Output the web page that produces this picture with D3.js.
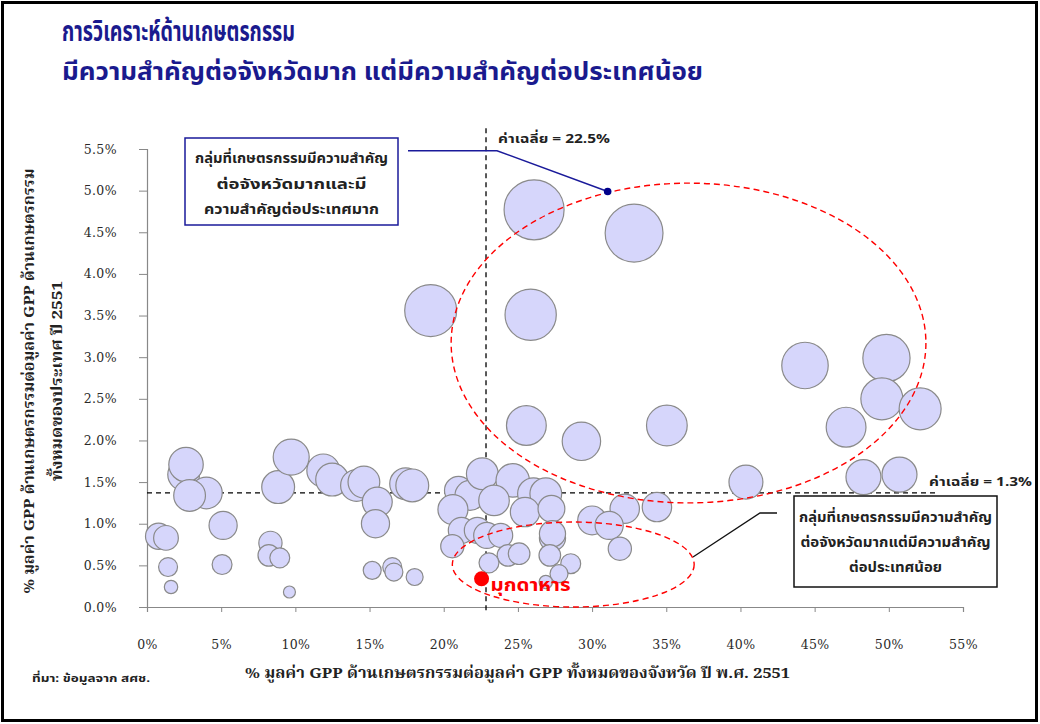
<!DOCTYPE html>
<html><head><meta charset="utf-8">
<script src="https://cdn.jsdelivr.net/npm/d3@7"></script>
<style>
html,body{margin:0;padding:0;background:#fff;}
svg{display:block;}
</style></head>
<body>
<svg id="chart" width="1040" height="724"></svg>
<script>
// ---- data ----
const titleLines = ["การวิเคราะห์ด้านเกษตรกรรม", "มีความสำคัญต่อจังหวัดมาก แต่มีความสำคัญต่อประเทศน้อย"];
const xTicks = [0,5,10,15,20,25,30,35,40,45,50,55];
const yTicks = [0,0.5,1,1.5,2,2.5,3,3.5,4,4.5,5,5.5];
// bubbles: x = % agri GPP of province GPP, y = % of national agri GPP, size = relative bubble size
const bubbleX = [2.47,2.63,4.0,2.87,5.13,0.78,1.28,1.42,1.62,5.06,8.84,9.72,8.32,8.21,8.95,9.6,
  11.88,12.48,14.12,14.62,15.52,15.4,17.43,17.88,15.18,16.53,16.64,18.04,19.12,
  21.0,21.77,22.6,24.65,26.05,26.88,23.39,20.62,25.48,27.26,21.19,22.27,22.9,23.84,27.33,27.33,20.58,24.33,25.08,23.05,27.15,28.56,27.77,26.88,
  26.09,32.83,25.86,25.57,29.28,35.04,44.35,49.84,49.53,52.11,47.12,40.37,48.29,50.72,
  32.2,34.37,30.0,31.15,31.87];
const bubbleY = [1.59,1.71,1.37,1.34,0.98,0.85,0.83,0.48,0.24,0.51,1.44,1.80,0.77,0.62,0.59,0.18,
  1.64,1.53,1.46,1.50,1.26,1.00,1.48,1.46,0.44,0.48,0.42,0.36,3.56,
  1.40,1.34,1.60,1.52,1.36,1.36,1.28,1.17,1.14,1.18,0.92,0.92,0.86,0.86,0.83,0.88,0.73,0.62,0.64,0.53,0.62,0.52,0.40,0.30,
  4.77,4.49,3.51,2.18,1.99,2.18,2.90,2.99,2.50,2.38,2.16,1.50,1.56,1.59,
  1.18,1.20,1.04,0.98,0.70];
const bubbleSize = [28,33,28,28,22,19,17,10,5,11,30,36,15,13,11,4,
  30,30,28,28,25,22,28,30,9,10,9,8,75,
  22,25,28,31,28,28,26,25,24,20,19,19,19,16,19,19,15,13,13,11,13,11,9,5,
  100,93,73,44,41,46,60,62,49,49,44,32,34,34,
  24,24,23,22,15];
const mukdahan = {name:"มุกดาหาร", x:22.55, y:0.34};
const meanX = 22.85, meanXLabel = "ค่าเฉลี่ย = 22.5%";
const meanY = 1.37, meanYLabel = "ค่าเฉลี่ย = 1.3%";
const ellipseBig = {cx:36.5, cy:3.17, rx:16.0, ry:1.92};
const ellipseSmall = {cx:28.73, cy:0.51, rx:8.15, ry:0.51};
const box1Lines = ["กลุ่มที่เกษตรกรรมมีความสำคัญ","ต่อจังหวัดมากและมี","ความสำคัญต่อประเทศมาก"];
const box2Lines = ["กลุ่มที่เกษตรกรรมมีความสำคัญ","ต่อจังหวัดมากแต่มีความสำคัญ","ต่อประเทศน้อย"];
const yTitle = ["% มูลค่า GPP ด้านเกษตรกรรมต่อมูลค่า GPP ด้านเกษตรกรรม","ทั้งหมดของประเทศ ปี  2551"];
const xTitle = "% มูลค่า GPP ด้านเกษตรกรรมต่อมูลค่า GPP ทั้งหมดของจังหวัด ปี พ.ศ. 2551";
const source = "ที่มา: ข้อมูลจาก สศช.";

// ---- drawing ----
const thai = "'Noto Sans Thai','Noto Serif Thai','Loma','Garuda','Tlwg Typo','Noto Sans','DejaVu Sans',sans-serif";
const thaiSerif = "'Noto Serif Thai','Noto Sans Thai','Liberation Serif','DejaVu Serif',serif";
const svg = d3.select("#chart");
svg.append("rect").attr("x",0).attr("y",0).attr("width",1040).attr("height",724).attr("fill","#fff");
svg.append("rect").attr("x",2.5).attr("y",2.5).attr("width",1034).attr("height",718)
  .attr("fill","none").attr("stroke","#000").attr("stroke-width",3);

const x = d3.scaleLinear().domain([0,55]).range([147,963]);
const y = d3.scaleLinear().domain([0,5.5]).range([607,149]);
const r = d3.scaleSqrt().domain([0,100]).range([0,30]);

// title
svg.append("text").attr("x",62).attr("y",41).text(titleLines[0])
  .attr("font-family",thai).attr("font-weight","bold").attr("font-size",28).attr("fill","#1a1a8e")
  .attr("textLength",233).attr("lengthAdjust","spacingAndGlyphs");
svg.append("text").attr("x",62).attr("y",80).text(titleLines[1])
  .attr("font-family",thai).attr("font-weight","bold").attr("font-size",24).attr("fill","#1a1a8e")
  .attr("textLength",641).attr("lengthAdjust","spacingAndGlyphs");

// axes
const yAxis = d3.axisLeft(y).tickValues(yTicks).tickFormat(d=>d.toFixed(1)+"%").tickSize(8).tickPadding(16);
const gy = svg.append("g").attr("transform",`translate(${x(0)},0)`).call(yAxis);
const xAxis = d3.axisBottom(x).tickValues(xTicks).tickFormat(d=>d+"%").tickSize(5).tickPadding(34);
const gx = svg.append("g").attr("transform",`translate(0,${y(0)})`).call(xAxis);
[gx,gy].forEach(g=>{
  g.select(".domain").attr("stroke","#888").attr("stroke-width",1.2);
  g.selectAll(".tick line").attr("stroke","#888");
  g.selectAll(".tick text").attr("font-family","'DejaVu Serif',serif").attr("font-size",12.5)
    .attr("fill","#2a2a2a").attr("letter-spacing",0.4);
});
gx.selectAll(".tick text").attr("dy","0.25em");
gy.selectAll(".tick text").attr("dx","-6");

// mean lines
svg.append("line").attr("x1",x(0)).attr("x2",x(53.3)).attr("y1",y(meanY)).attr("y2",y(meanY))
  .attr("stroke","#000").attr("stroke-width",1.3).attr("stroke-dasharray","5,4");
svg.append("line").attr("x1",x(meanX)).attr("x2",x(meanX)).attr("y1",y(5.75)).attr("y2",y(-0.07))
  .attr("stroke","#000").attr("stroke-width",1.3).attr("stroke-dasharray","5,4");
svg.append("text").attr("x",x(meanX)+12).attr("y",y(5.75)+15).text(meanXLabel)
  .attr("font-family",thai).attr("font-weight","bold").attr("font-size",13).attr("fill","#222")
  .attr("textLength",112).attr("lengthAdjust","spacingAndGlyphs");
svg.append("text").attr("x",929).attr("y",y(meanY)-7).text(meanYLabel)
  .attr("font-family",thai).attr("font-weight","bold").attr("font-size",13).attr("fill","#222")
  .attr("textLength",103).attr("lengthAdjust","spacingAndGlyphs");

// bubbles
const data = bubbleX.map((d,i)=>({x:d,y:bubbleY[i],s:bubbleSize[i]}));
svg.append("g").selectAll("circle").data(data).join("circle")
  .attr("cx",d=>x(d.x)).attr("cy",d=>y(d.y)).attr("r",d=>r(d.s))
  .attr("fill","#d6d6fb").attr("stroke","#8a8a8a").attr("stroke-width",1.2);

// ellipses
[ellipseBig, ellipseSmall].forEach(e=>{
  svg.append("ellipse").attr("cx",x(e.cx)).attr("cy",y(e.cy))
    .attr("rx",x(e.rx)-x(0)).attr("ry",y(0)-y(e.ry))
    .attr("fill","none").attr("stroke","#ff0000").attr("stroke-width",1.4).attr("stroke-dasharray","6,4");
});

// Mukdahan
svg.append("circle").attr("cx",x(mukdahan.x)).attr("cy",y(mukdahan.y)).attr("r",7.5).attr("fill","#ff0000");
svg.append("text").attr("x",x(mukdahan.x)+9).attr("y",y(mukdahan.y)+12).text(mukdahan.name)
  .attr("font-family",thai).attr("font-weight","bold").attr("font-size",18).attr("fill","#ff0000")
  .attr("textLength",80).attr("lengthAdjust","spacingAndGlyphs");

// annotation box 1
const b1 = {x:185,y:138,w:213,h:87};
svg.append("rect").attr("x",b1.x).attr("y",b1.y).attr("width",b1.w).attr("height",b1.h)
  .attr("fill","#fff").attr("stroke","#1a1a9a").attr("stroke-width",1.5);
const w1 = [193,150,175];
box1Lines.forEach((t,i)=>{
  svg.append("text").attr("x",b1.x+b1.w/2).attr("y",163+i*25.5).attr("text-anchor","middle").text(t)
    .attr("font-family",thai).attr("font-weight","bold").attr("font-size",14.5).attr("fill","#222")
    .attr("textLength",w1[i]).attr("lengthAdjust","spacingAndGlyphs");
});
const dot1 = {x:31.05, y:4.99};
svg.append("polyline").attr("points",[[408,150.7],[497,150.7],[x(dot1.x),y(dot1.y)]].map(p=>p.join(",")).join(" "))
  .attr("fill","none").attr("stroke","#1a1a9a").attr("stroke-width",1.5);
svg.append("circle").attr("cx",x(dot1.x)).attr("cy",y(dot1.y)).attr("r",3.8).attr("fill","#00008b");

// annotation box 2
const b2 = {x:794,y:496,w:203,h:91};
svg.append("rect").attr("x",b2.x).attr("y",b2.y).attr("width",b2.w).attr("height",b2.h)
  .attr("fill","#fff").attr("stroke","#111").attr("stroke-width",1.5);
const w2 = [193,190,93];
box2Lines.forEach((t,i)=>{
  svg.append("text").attr("x",b2.x+b2.w/2).attr("y",522+i*25).attr("text-anchor","middle").text(t)
    .attr("font-family",thai).attr("font-weight","bold").attr("font-size",14.5).attr("fill","#222")
    .attr("textLength",w2[i]).attr("lengthAdjust","spacingAndGlyphs");
});
svg.append("polyline").attr("points","777,513 760,513 693,557")
  .attr("fill","none").attr("stroke","#111").attr("stroke-width",1.3);

// axis titles
svg.append("text").attr("x",517.5).attr("y",678).attr("text-anchor","middle").text(xTitle)
  .attr("font-family",thaiSerif).attr("font-weight","bold").attr("font-size",15).attr("fill","#222")
  .attr("textLength",545).attr("lengthAdjust","spacingAndGlyphs");
const yc = 381;
svg.append("text").attr("transform",`translate(34,${yc}) rotate(-90)`).attr("text-anchor","middle").text(yTitle[0])
  .attr("font-family",thaiSerif).attr("font-weight","bold").attr("font-size",15).attr("fill","#222")
  .attr("textLength",425).attr("lengthAdjust","spacingAndGlyphs");
svg.append("text").attr("transform",`translate(62,${yc}) rotate(-90)`).attr("text-anchor","middle").text(yTitle[1])
  .attr("font-family",thaiSerif).attr("font-weight","bold").attr("font-size",15).attr("fill","#222")
  .attr("textLength",200).attr("lengthAdjust","spacingAndGlyphs");

// source
svg.append("text").attr("x",32).attr("y",682).text(source)
  .attr("font-family",thai).attr("font-weight","bold").attr("font-size",11).attr("fill","#222")
  .attr("textLength",118).attr("lengthAdjust","spacingAndGlyphs");
</script>
</body></html>
